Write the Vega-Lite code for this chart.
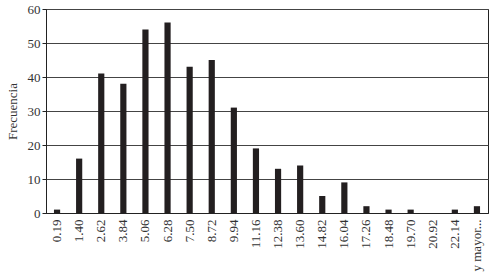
{
  "$schema": "https://vega.github.io/schema/vega-lite/v6.json",
  "width": 442,
  "height": 204,
  "autosize": {"type": "none"},
  "padding": {"left": 46, "top": 9, "right": 1, "bottom": 67},
  "background": "white",
  "config": {
    "view": {"stroke": "#222", "strokeWidth": 1},
    "font": "Times New Roman"
  },
  "data": {
    "values": [
      {"clase": "0.19", "frecuencia": 1},
      {"clase": "1.40", "frecuencia": 16},
      {"clase": "2.62", "frecuencia": 41},
      {"clase": "3.84", "frecuencia": 38},
      {"clase": "5.06", "frecuencia": 54},
      {"clase": "6.28", "frecuencia": 56},
      {"clase": "7.50", "frecuencia": 43},
      {"clase": "8.72", "frecuencia": 45},
      {"clase": "9.94", "frecuencia": 31},
      {"clase": "11.16", "frecuencia": 19},
      {"clase": "12.38", "frecuencia": 13},
      {"clase": "13.60", "frecuencia": 14},
      {"clase": "14.82", "frecuencia": 5},
      {"clase": "16.04", "frecuencia": 9},
      {"clase": "17.26", "frecuencia": 2},
      {"clase": "18.48", "frecuencia": 1},
      {"clase": "19.70", "frecuencia": 1},
      {"clase": "20.92", "frecuencia": 0},
      {"clase": "22.14", "frecuencia": 1},
      {"clase": "y mayor...", "frecuencia": 2}
    ]
  },
  "mark": {"type": "bar", "color": "#231f20"},
  "encoding": {
    "x": {
      "field": "clase",
      "type": "nominal",
      "sort": null,
      "scale": {"paddingInner": 0.72, "paddingOuter": 0.36},
      "axis": {
        "title": null,
        "labelAngle": 270,
        "labelFont": "Liberation Serif",
        "labelFontSize": 13,
        "labelColor": "#333",
        "labelPadding": 6,
        "ticks": false,
        "domainColor": "#222"
      }
    },
    "y": {
      "field": "frecuencia",
      "type": "quantitative",
      "scale": {"domain": [0, 60], "nice": false},
      "axis": {
        "title": "Frecuencia",
        "titleFont": "Liberation Serif",
        "titleFontSize": 13,
        "titleFontWeight": "normal",
        "titleColor": "#333",
        "titlePadding": 8,
        "values": [0, 10, 20, 30, 40, 50, 60],
        "labelFont": "Liberation Serif",
        "labelFontSize": 13,
        "labelColor": "#333",
        "tickSize": 4,
        "tickColor": "#222",
        "domainColor": "#222",
        "grid": true,
        "gridColor": "#444",
        "gridWidth": 1
      }
    }
  }
}
